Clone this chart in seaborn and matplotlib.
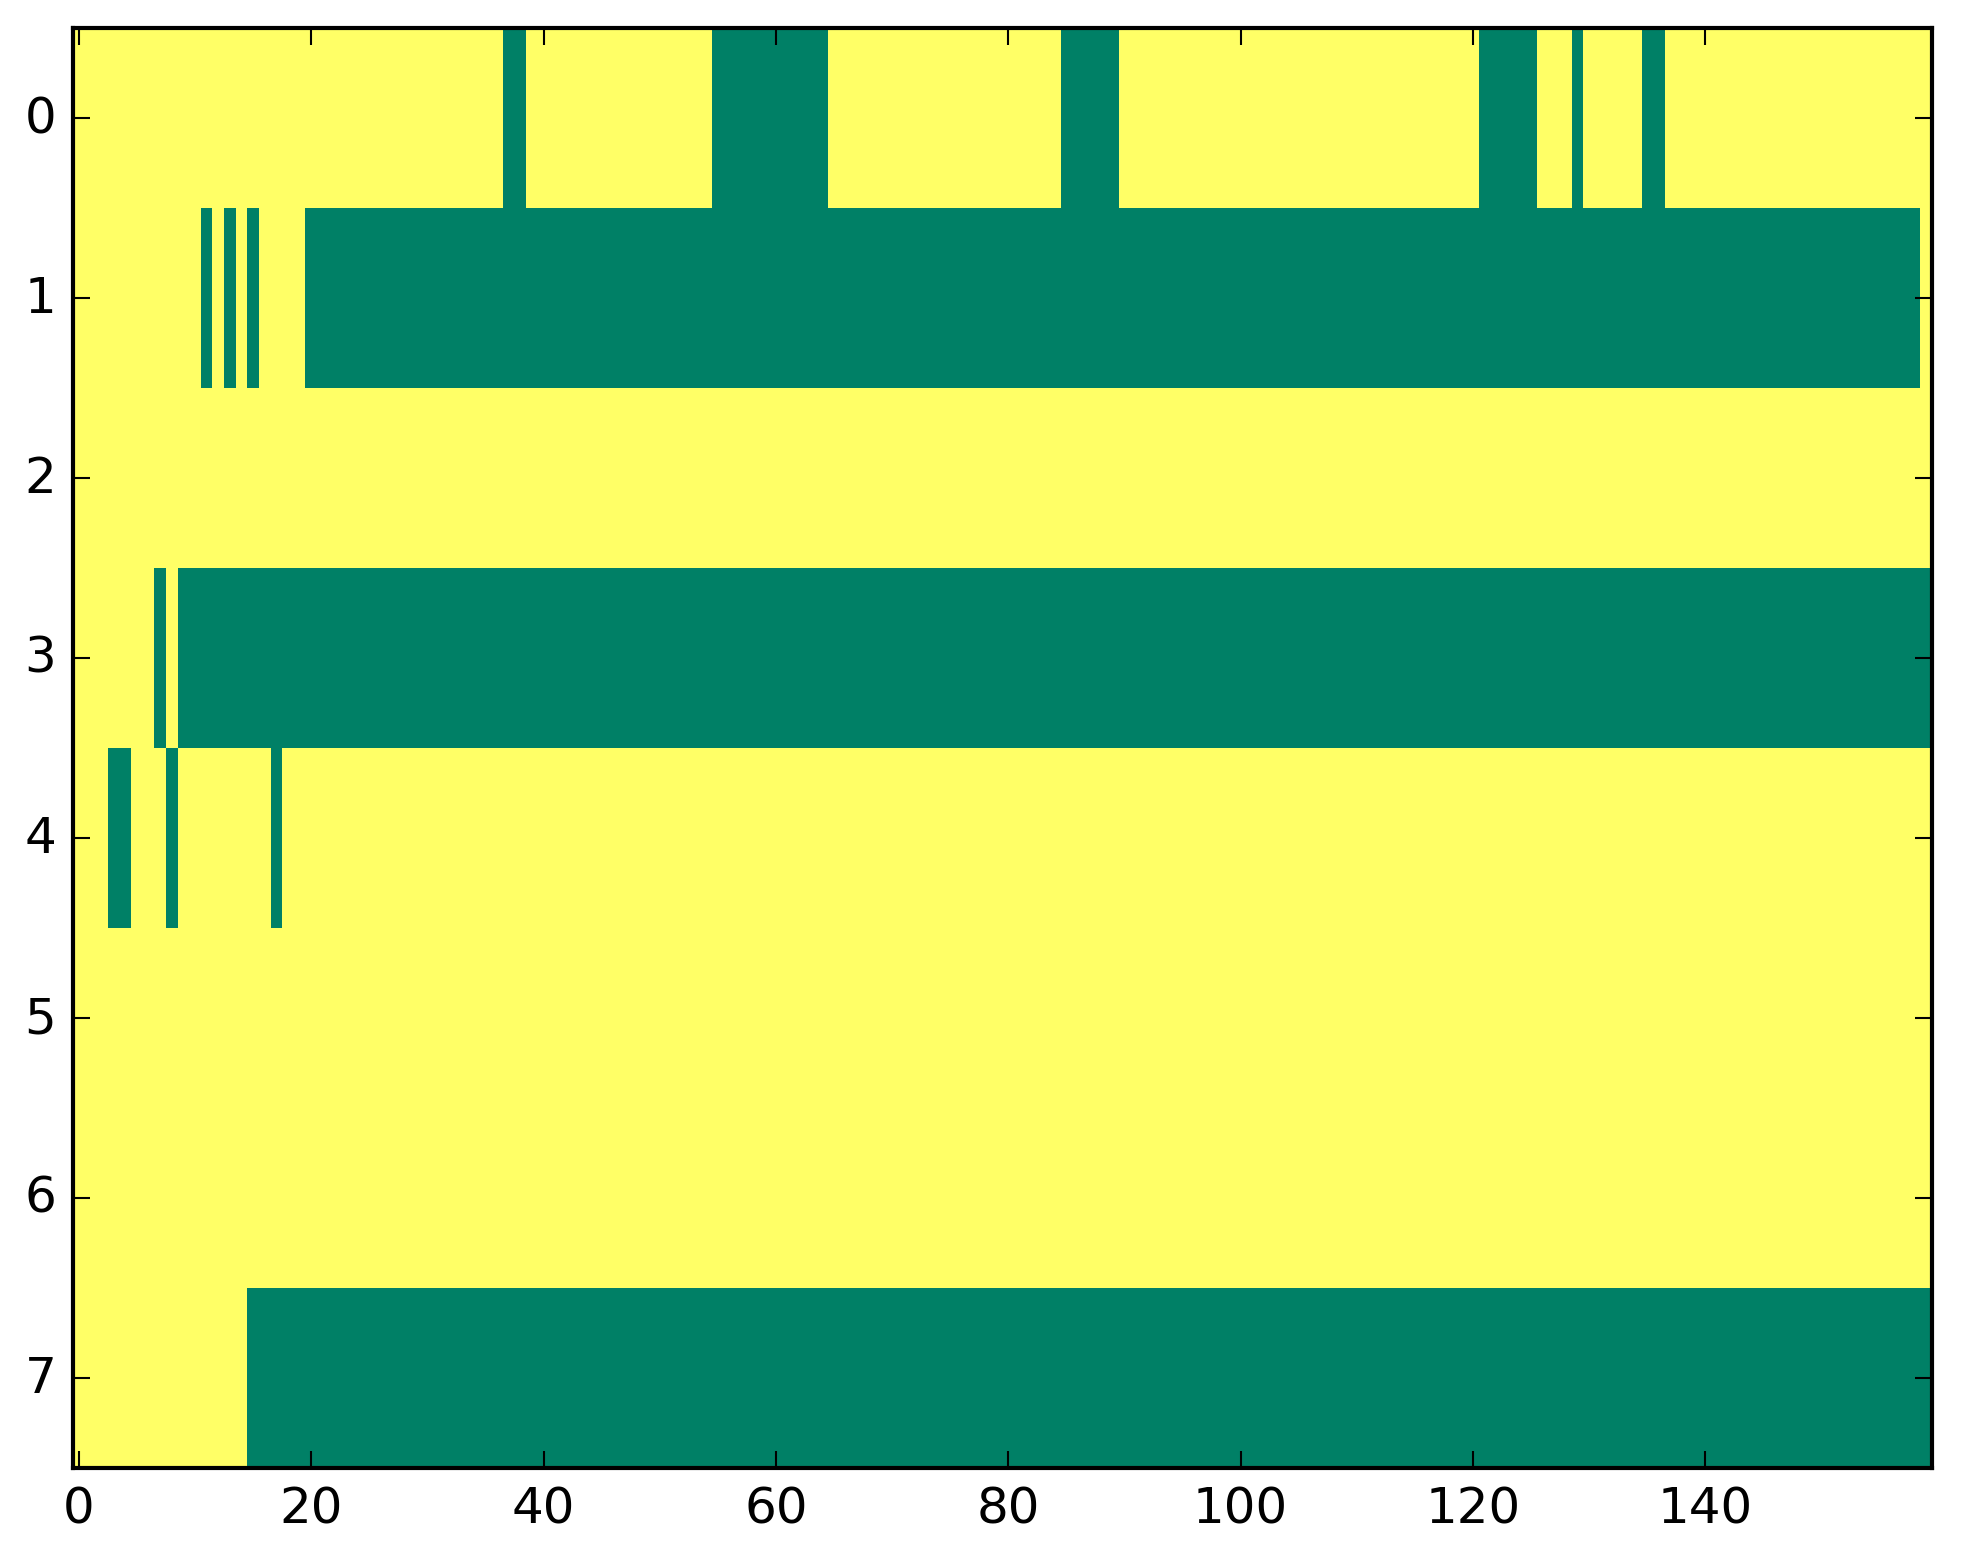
import numpy as np
import pandas as pd
import matplotlib
matplotlib.use('Agg')
import matplotlib.pyplot as plt
import seaborn as sns

# 8 rows x 160 columns of 0/1 values; 0 cells (green) listed as inclusive runs
n_rows = 8
n_cols = 160
zero_runs = {
    0: [(37, 38), (55, 64), (85, 89), (121, 125), (129, 129), (135, 136)],
    1: [(11, 11), (13, 13), (15, 15), (20, 158)],
    2: [],
    3: [(7, 7), (9, 159)],
    4: [(3, 4), (8, 8), (17, 17)],
    5: [],
    6: [],
    7: [(15, 159)],
}
xtick_vals = list(range(0, 160, 20))
ytick_vals = list(range(8))

grid = np.ones((n_rows, n_cols))
for row, runs in zero_runs.items():
    for start, end in runs:
        grid[row, start:end + 1] = 0
df = pd.DataFrame(grid)

plt.style.use('classic')
plt.rcParams['font.family'] = ['DejaVu Sans']

W, H = 1963, 1564
fig = plt.figure(figsize=(W / 300, H / 300), dpi=300, facecolor='white')
ax = fig.add_axes([73 / W, (H - 1469) / H, 1859 / W, 1440 / H])

sns.heatmap(df, cmap='summer', vmin=0, vmax=1, cbar=False, ax=ax,
            linewidths=0, rasterized=True)

for s in ax.spines.values():
    s.set_visible(True)
    s.set_linewidth(1.0)
    s.set_color('black')

ax.set_xlim(0, n_cols)
ax.set_ylim(n_rows, 0)
ax.set_xticks(np.array(xtick_vals) + 0.5)
ax.set_xticklabels([str(v) for v in xtick_vals], rotation=0)
ax.set_yticks(np.array(ytick_vals) + 0.5)
ax.set_yticklabels([str(v) for v in ytick_vals], rotation=0)
ax.set_xlabel('')
ax.set_ylabel('')
ax.tick_params(direction='in', top=True, right=True, bottom=True, left=True,
               length=4, width=0.5, labelsize=12, pad=4)

fig.savefig('out.png', dpi=300, facecolor='white')
plt.close(fig)
